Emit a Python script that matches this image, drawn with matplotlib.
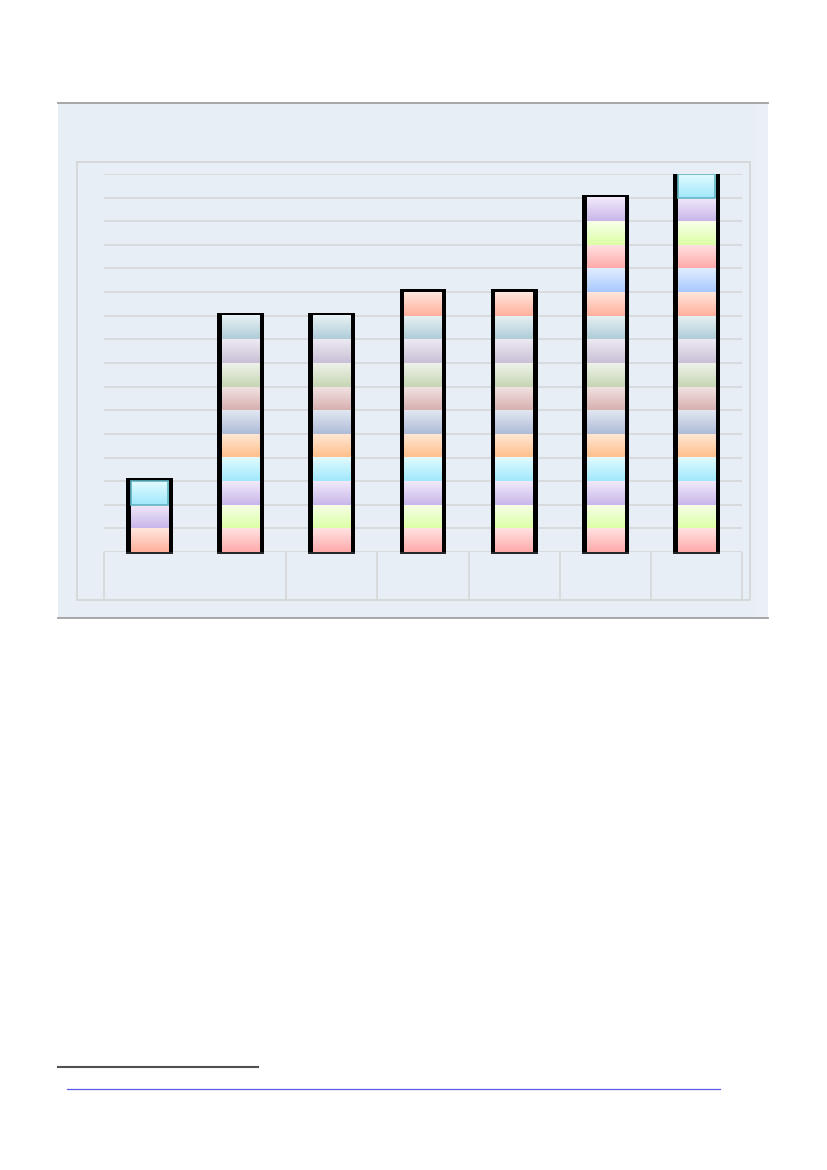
import matplotlib
matplotlib.use('Agg')
import matplotlib.pyplot as plt
from matplotlib.patches import Rectangle
from matplotlib.lines import Line2D
import numpy as np

################################################################################
# Data
################################################################################

# one entry per bar, each segment is one unit high (bottom -> top)
bar_segments = [
    ['salmon', 'lavender', 'cyan'],
    ['pink', 'lime', 'lavender', 'cyan', 'orange', 'bluegray',
     'rose', 'sage', 'mauve', 'slate'],
    ['pink', 'lime', 'lavender', 'cyan', 'orange', 'bluegray',
     'rose', 'sage', 'mauve', 'slate'],
    ['pink', 'lime', 'lavender', 'cyan', 'orange', 'bluegray',
     'rose', 'sage', 'mauve', 'slate', 'salmon'],
    ['pink', 'lime', 'lavender', 'cyan', 'orange', 'bluegray',
     'rose', 'sage', 'mauve', 'slate', 'salmon'],
    ['pink', 'lime', 'lavender', 'cyan', 'orange', 'bluegray',
     'rose', 'sage', 'mauve', 'slate', 'salmon', 'lightblue',
     'pink', 'lime', 'lavender'],
    ['pink', 'lime', 'lavender', 'cyan', 'orange', 'bluegray',
     'rose', 'sage', 'mauve', 'slate', 'salmon', 'lightblue',
     'pink', 'lime', 'lavender', 'cyan'],
]
# bars whose top segment has the teal outline
outlined_top = [0, 6]

# header cells under the axis: number of categories per cell
cell_groups = [2, 1, 1, 1, 1, 1]

y_max = 16

################################################################################
# Styles
################################################################################

# (top colour, bottom colour) of each gradient segment
seg_colors = {
    'pink':      ('#ffe2e2', '#ffaaaa'),
    'salmon':    ('#ffe6dc', '#ffb09c'),
    'lime':      ('#f8ffea', '#dcffa6'),
    'lavender':  ('#f2eafa', '#c8b6ea'),
    'cyan':      ('#e2fbff', '#a0e8fc'),
    'orange':    ('#ffe8d6', '#ffc08c'),
    'bluegray':  ('#e2e8f2', '#aebcd8'),
    'rose':      ('#f2e4e4', '#d8b0b0'),
    'sage':      ('#eef2ea', '#c6d6b4'),
    'mauve':     ('#eeeaf2', '#c8c0d6'),
    'slate':     ('#e8f2f4', '#b0ccd8'),
    'lightblue': ('#e2eeff', '#a8c8ff'),
}

PANEL_COLOR = '#e8eef6'
GRID_COLOR = '#d6d6d6'

W, H = 827, 1170
fig = plt.figure(figsize=(W / 100, H / 100), dpi=100)


def fig_rect(x0, y0, x1, y1):
    # pixel box (top-left origin) -> figure fraction
    return (x0 / W, 1 - y1 / H, (x1 - x0) / W, (y1 - y0) / H)


def hex_rgb(c):
    c = c.lstrip('#')
    return np.array([int(c[i:i + 2], 16) / 255 for i in (0, 2, 4)])


################################################################################
# Panel and frame
################################################################################

l, b, w, h = fig_rect(58, 103, 768, 618)
fig.add_artist(Rectangle((l, b), w, h, transform=fig.transFigure,
                         facecolor=PANEL_COLOR, edgecolor='none', zorder=0))
l2, b2, w2, h2 = fig_rect(756, 104, 768, 617)
fig.add_artist(Rectangle((l2, b2), w2, h2, transform=fig.transFigure,
                         facecolor='#ebf0f7', edgecolor='none', zorder=0))
fig.add_artist(Line2D([l, l + w], [b + h, b + h], transform=fig.transFigure,
                      color='#a0a0a0', lw=1.3, zorder=1))
fig.add_artist(Line2D([l, l + w], [b, b], transform=fig.transFigure,
                      color='#a0a0a0', lw=1.3, zorder=1))

l, b, w, h = fig_rect(77, 162, 750, 600)
fig.add_artist(Rectangle((l, b), w, h, transform=fig.transFigure,
                         facecolor='none', edgecolor='#d4d4d4', lw=1.2, zorder=1))

################################################################################
# Bars
################################################################################

ax = fig.add_axes(fig_rect(104, 174, 742, 552))
ax.set_facecolor('none')
n = len(bar_segments)
x = np.arange(n)
outer_w = 0.514
inner_w = 0.41
border_top = 0.13

totals = [len(s) for s in bar_segments]
ax.bar(x, [t + border_top for t in totals], width=outer_w,
       color='black', zorder=3)
ax.hlines(np.full(n, -0.05), x - outer_w / 2, x + outer_w / 2, color='black',
          lw=1.2, clip_on=False, zorder=3)

for i, segs in enumerate(bar_segments):
    for j, key in enumerate(segs):
        top, bot = (hex_rgb(c) for c in seg_colors[key])
        t = np.linspace(0, 1, 64)[:, None, None]
        grad = bot * (1 - t) + top * t
        ax.imshow(grad, extent=[i - inner_w / 2, i + inner_w / 2, j, j + 1],
                  origin='lower', aspect='auto', interpolation='bilinear',
                  zorder=4)
    if i in outlined_top:
        j = len(segs) - 1
        ax.add_patch(Rectangle((i - inner_w / 2, j), inner_w, 1,
                               facecolor='none', edgecolor='#62b4c4',
                               lw=1.2, zorder=5))

ax.set_xlim(-0.5, n - 0.5)
ax.set_ylim(0, y_max)
ax.set_yticks(np.arange(0, y_max + 1))
ax.yaxis.grid(True, color=GRID_COLOR, lw=1.2)
ax.set_axisbelow(True)
ax.tick_params(length=0, labelleft=False, labelbottom=False)
for s in ax.spines.values():
    s.set_visible(False)

# header cells below the axis
edges = np.concatenate([[0], np.cumsum(cell_groups)]) - 0.5
cell_h = 48 / (378 / y_max)
ax.vlines(edges, -cell_h, 0, color=GRID_COLOR, lw=1.2, clip_on=False, zorder=1)

################################################################################
# Footer lines
################################################################################

fig.add_artist(Line2D([58 / W, 258 / W], [1 - 1067 / H] * 2,
                      transform=fig.transFigure, color='#505050', lw=1.5))
fig.add_artist(Line2D([67 / W, 720 / W], [1 - 1089 / H] * 2,
                      transform=fig.transFigure, color='#5a5ae6', lw=0.9))

fig.savefig('out.png', dpi=100)
